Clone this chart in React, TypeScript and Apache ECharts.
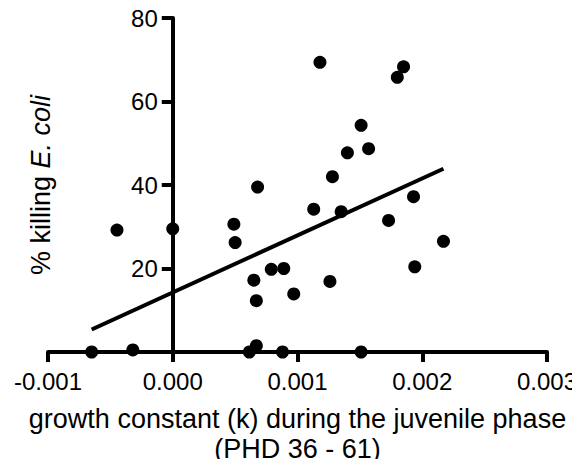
import React, { useEffect, useRef } from "react";
import * as echarts from "echarts";

const xValues = [
  -0.00065, -0.00032, -0.000447, 0, 0.00049, 0.0005, 0.000614, 0.00067, 0.00065, 0.00067,
  0.00068, 0.00079, 0.00089, 0.00088, 0.00097, 0.00113, 0.00118, 0.00126, 0.00128, 0.00135,
  0.0014, 0.00151, 0.00151, 0.00157, 0.00173, 0.0018, 0.00185, 0.00193, 0.00194, 0.00217,
];
const yValues = [
  0, 0.5, 29.2, 29.5, 30.6, 26.2, 0, 1.5, 17.2, 12.3,
  39.5, 19.8, 20.0, 0, 13.9, 34.2, 69.4, 16.9, 42.0, 33.6,
  47.7, 54.3, 0, 48.7, 31.5, 65.8, 68.3, 37.2, 20.4, 26.5,
];
const fitX = [-0.00065, 0.00217];
const fitY = [5.4, 43.9];
const xTicks = [-0.001, 0.003, 0.001];
const yTicks = [0, 80, 20];

export default function App() {
  const ref = useRef<HTMLDivElement>(null);
  useEffect(() => {
    if (!ref.current) return;
    const chart = echarts.init(ref.current, null, { renderer: "svg" });
    const font = "Liberation Sans, Arial, Helvetica, sans-serif";
    const gridLeft = 48;
    const gridRight = 33;
    const plotW = 580 - gridLeft - gridRight;
    // y axis sits at x = 0 of the x axis
    const yAxisShift = ((0 - xTicks[0]) / (xTicks[1] - xTicks[0])) * plotW;
    chart.setOption({
      animation: false,
      backgroundColor: "#fff",
      grid: { left: gridLeft, right: gridRight, top: 18, bottom: 115, containLabel: false, outerBoundsMode: "none" },
      xAxis: {
        type: "value",
        min: xTicks[0],
        max: xTicks[1],
        interval: xTicks[2],
        name: "growth constant (k) during the juvenile phase\n(PHD 36 - 61)",
        nameLocation: "middle",
        nameGap: 52,
        nameTextStyle: { fontFamily: font, fontSize: 27, color: "#000", lineHeight: 30 },
        splitLine: { show: false },
        axisLine: { show: true, onZero: false, lineStyle: { color: "#000", width: 4 } },
        axisTick: { show: true, length: 10, lineStyle: { color: "#000", width: 4 } },
        axisLabel: {
          margin: 17,
          fontFamily: font,
          fontSize: 24,
          color: "#000",
          formatter: (v: number) => v.toFixed(3),
        },
      },
      yAxis: {
        type: "value",
        min: yTicks[0],
        max: yTicks[1],
        interval: yTicks[2],
        offset: -yAxisShift,
        name: "% killing {i|E. coli}",
        nameLocation: "middle",
        nameGap: 118,
        nameTextStyle: {
          fontFamily: font,
          fontSize: 27,
          color: "#000",
          rich: { i: { fontStyle: "italic", fontFamily: font, fontSize: 27, color: "#000" } },
        },
        splitLine: { show: false },
        axisLine: { show: true, onZero: false, lineStyle: { color: "#000", width: 4 } },
        axisTick: { show: true, length: 11, lineStyle: { color: "#000", width: 4 } },
        axisLabel: {
          margin: 15,
          fontFamily: font,
          fontSize: 24,
          color: "#000",
          formatter: (v: number) => (v === 0 ? "" : String(v)),
        },
      },
      series: [
        {
          type: "line",
          data: fitX.map((x, i) => [x, fitY[i]]),
          showSymbol: false,
          symbol: "none",
          lineStyle: { color: "#000", width: 4 },
          z: 3,
        },
        {
          type: "scatter",
          data: xValues.map((x, i) => [x, yValues[i]]),
          symbol: "circle",
          symbolSize: 13,
          itemStyle: { color: "#000", opacity: 1 },
          clip: false,
          z: 4,
        },
      ],
    });
    return () => chart.dispose();
  }, []);
  return <div ref={ref} style={{ width: 580, height: 467, margin: -8 }} />;
}
